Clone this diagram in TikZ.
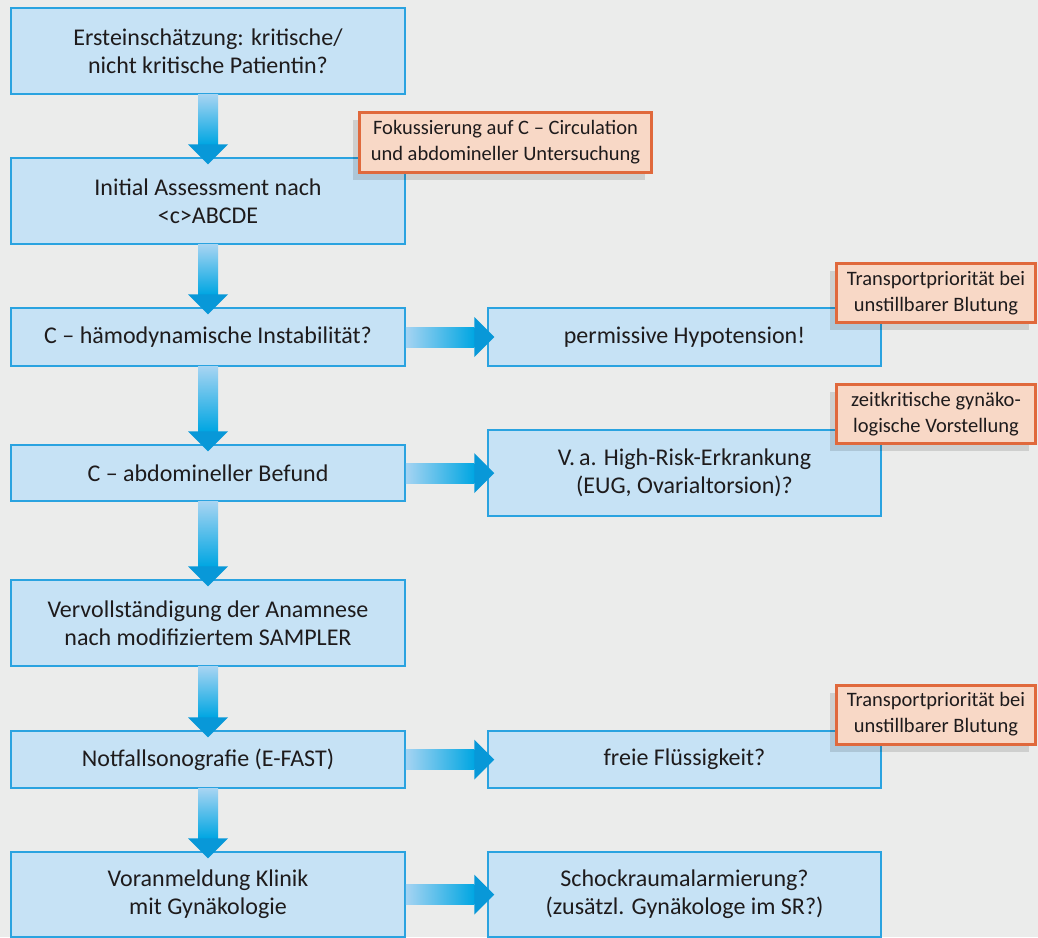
\documentclass[tikz,border=0pt]{standalone}
\usepackage{fontspec}
\setmainfont{Carlito}
\usetikzlibrary{calc,shadows}
\definecolor{bg}{HTML}{EBECEB}
\definecolor{boxfill}{HTML}{C6E2F5}
\definecolor{boxline}{HTML}{2AA3E0}
\definecolor{notefill}{HTML}{F8D8C6}
\definecolor{noteline}{HTML}{E0693C}
\definecolor{txt}{HTML}{1E1B1C}
\definecolor{arrlight}{HTML}{A6D4F2}
\definecolor{arrmid}{HTML}{00A6E2}
\definecolor{arrdark}{HTML}{0898D8}
\tikzset{
  flowbox/.style={draw=boxline, line width=1.5pt, fill=boxfill, text=txt, align=center,
    font=\fontsize{24}{28}\selectfont, inner sep=0pt},
  leftbox/.style={flowbox, minimum width=394pt},
  rightbox/.style={flowbox, minimum width=393pt},
  notebox/.style={draw=noteline, line width=3pt, fill=notefill, text=txt, align=center,
    font=\fontsize{20.5}{26}\selectfont, inner sep=0pt,
    general shadow={shadow xshift=-7pt, shadow yshift=-7.5pt, fill=black, opacity=0.12}},
}
\newcommand\flowdown[2]{%
  \shade[top color=arrlight, bottom color=arrmid] ($(#1.south)+(-10,0)$) rectangle ($(#2.north)+(10,13)$);
  \fill[arrdark] ($(#2.north)+(-20,13)$) -- ($(#2.north)+(20,13)$) -- ($(#2.north)+(0,-7)$) -- cycle;}
\newcommand\flowright[2]{%
  \shade[left color=arrlight, right color=arrmid] ($(#1.east)+(0,-10)$) rectangle ($(#2.west)+(-13,10)$);
  \fill[arrdark] ($(#2.west)+(-13,20)$) -- ($(#2.west)+(-13,-20)$) -- ($(#2.west)+(7,0)$) -- cycle;}
\begin{document}
\begin{tikzpicture}[x=1pt,y=1pt]
\fill[bg] (0,0) rectangle (1038,-937);
\useasboundingbox (0,0) rectangle (1038,-937);
% left column
\node[leftbox, minimum height=86pt] (l1) at (208,-51) {Ersteinschätzung: kritische/\\nicht kritische Patientin?};
\node[leftbox, minimum height=86pt] (l2) at (208,-201) {Initial Assessment nach\\<c>ABCDE};
\node[leftbox, minimum height=58pt] (l3) at (208,-337) {C – hämodynamische Instabilität?};
\node[leftbox, minimum height=56pt] (l4) at (208,-473) {C – abdomineller Befund};
\node[leftbox, minimum height=86pt] (l5) at (208,-623) {Vervollständigung der Anamnese\\nach modifiziertem SAMPLER};
\node[leftbox, minimum height=57pt] (l6) at (208,-759.5) {Notfallsonografie (E-FAST)};
\node[leftbox, minimum height=85pt] (l7) at (208,-894.5) {Voranmeldung Klinik\\mit Gynäkologie};
% right column
\node[rightbox, minimum height=58pt] (r1) at (684.5,-337) {permissive Hypotension!};
\node[rightbox, minimum height=86pt] (r2) at (684.5,-473) {V.\,a. High-Risk-Erkrankung\\(EUG, Ovarialtorsion)?};
\node[rightbox, minimum height=57pt] (r3) at (684.5,-759.5) {freie Flüssigkeit?};
\node[rightbox, minimum height=85pt] (r4) at (684.5,-894.5) {Schockraumalarmierung?\\(zusätzl. Gynäkologe im SR?)};
% arrows
\flowdown{l1}{l2}
\flowdown{l2}{l3}
\flowdown{l3}{l4}
\flowdown{l4}{l5}
\flowdown{l5}{l6}
\flowdown{l6}{l7}
\flowright{l3}{r1}
\flowright{l4}{r2}
\flowright{l6}{r3}
\flowright{l7}{r4}
% notes
\node[notebox, minimum width=292pt, minimum height=60pt] (n1) at (505.5,-142.5) {Fokussierung auf C – Circulation\\und abdomineller Untersuchung};
\node[notebox, minimum width=199pt, minimum height=59pt] (n2) at (936,-293) {Transportpriorität bei\\unstillbarer Blutung};
\node[notebox, minimum width=199pt, minimum height=59pt] (n3) at (936,-414) {zeitkritische gynäko-\\logische Vorstellung};
\node[notebox, minimum width=199pt, minimum height=59pt] (n4) at (936,-714.5) {Transportpriorität bei\\unstillbarer Blutung};
\end{tikzpicture}
\end{document}
